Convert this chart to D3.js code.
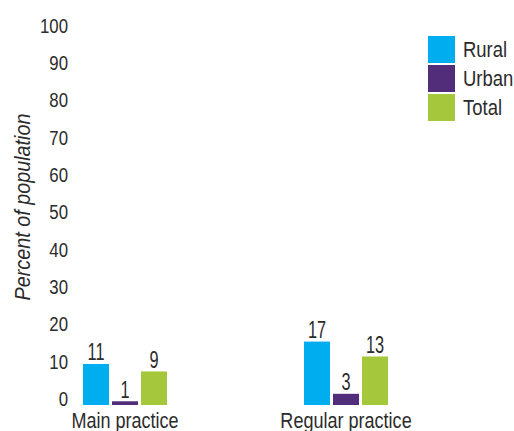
<!DOCTYPE html>
<html><head><meta charset="utf-8">
<script src="https://cdn.jsdelivr.net/npm/d3@7"></script>
<style>
body{margin:0;background:#fff;}
text{font-family:"Liberation Sans",Arial,sans-serif;fill:#2b2b2b;}
</style></head>
<body><svg id="c" width="514" height="431"></svg>
<script>
const categories = ["Main practice", "Regular practice"];
const series = ["Rural", "Urban", "Total"];
const colors = ["#00aeef", "#522d7a", "#a4c73c"];
const rural = [11, 17];
const urban = [1, 3];
const total = [9, 13];
const yTicks = [0,10,20,30,40,50,60,70,80,90,100];

const values = [rural, urban, total];
const svg = d3.select("#c");
const SX = 0.8;

function txt(parent, x, y, s, size, anchor, extra, sx) {
  return parent.append("text")
    .attr("transform", `translate(${x},${y}) ${extra||""} scale(${sx||SX},1)`)
    .attr("text-anchor", anchor || "start")
    .attr("font-size", size).text(s);
}

const y = d3.scaleLinear().domain([0,100]).range([405, 32]);
const x = d3.scalePoint().domain(categories).range([125, 346]);
const xs = d3.scaleBand().domain(series).range([-42, 42]).paddingInner(0.1034).paddingOuter(0);

// y axis (labels only)
const yAxis = d3.axisLeft(y).tickValues(yTicks).tickSize(0).tickPadding(0).tickFormat(d3.format("d"));
const ga = svg.append("g").attr("transform","translate(68,0)").call(yAxis);
ga.select(".domain").remove();
ga.selectAll("text").attr("font-size",21).attr("dy","0.35em").attr("x",0).attr("y",-7)
  .attr("transform",`scale(${SX},1)`)
  .style("font-family",'"Liberation Sans",Arial,sans-serif').attr("fill","#2b2b2b");

// y title
txt(svg, 30, 207, "Percent of population", 22, "middle", "rotate(-90)", 0.9)
  .attr("font-style","italic");

// bars
categories.forEach((c,i)=>{
  const g = svg.append("g").attr("transform",`translate(${x(c)},0)`);
  series.forEach((s,j)=>{
    const v = values[j][i];
    g.append("rect").attr("x",xs(s)).attr("width",xs.bandwidth())
      .attr("y",y(v)).attr("height",y(0)-y(v)).attr("fill",colors[j]);
    txt(g, xs(s)+xs.bandwidth()/2, y(v)-3.5, v, 24, "middle", "", 0.68);
  });
  txt(svg, x(c), 428, c, 22, "middle", "", 0.82);
});

// legend
const lg = svg.append("g").attr("transform","translate(428,36)");
series.forEach((s,j)=>{
  lg.append("rect").attr("x",0).attr("y",j*29).attr("width",27).attr("height",27).attr("fill",colors[j]);
  txt(lg, 35, j*29+21, s, 22, "start", "", 0.84);
});
</script></body></html>
